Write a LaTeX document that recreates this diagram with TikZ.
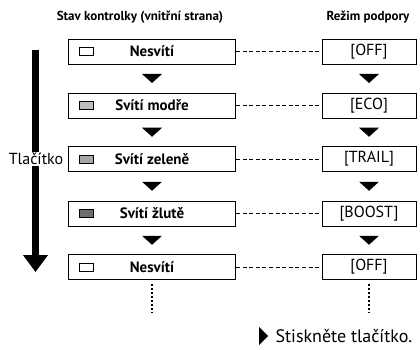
\documentclass[tikz,border=0pt]{standalone}
\usepackage{fontspec}
\setmainfont{PT Sans}
\usepackage{tikz}
\usetikzlibrary{arrows.meta, calc}
\definecolor{lampblue}{RGB}{190, 190, 190}
\definecolor{lampgreen}{RGB}{165, 165, 165}
\definecolor{lampyellow}{RGB}{110, 110, 110}
\tikzset{
    statebox/.style={draw, rectangle, minimum width=167pt, minimum height=25pt, line width=0.9pt, font=\fontsize{15}{17}\selectfont\bfseries},
    modebox/.style={draw, rectangle, minimum width=94pt, minimum height=25pt, line width=0.9pt, font=\fontsize{16}{18}\selectfont},
    lampicon/.style={draw, rectangle, minimum width=14pt, minimum height=8pt, inner sep=0pt, line width=0.7pt},
    headtext/.style={font=\fontsize{13}{15}\selectfont\bfseries},
    linkline/.style={line width=0.6pt, dash pattern=on 4pt off 2.6pt},
    moredots/.style={line width=1.7pt, dash pattern=on 1.7pt off 2.3pt},
    pressarrow/.style={line width=7.5pt, -{Triangle[width=24pt, length=17pt]}},
    downtri/.pic={\fill (-10pt,4.5pt) -- (10pt,4.5pt) -- (0pt,-4.5pt) -- cycle;},
    righttri/.pic={\fill (-4pt,9pt) -- (5pt,0pt) -- (-4pt,-9pt) -- cycle;},
}
\begin{document}
\begin{tikzpicture}[x=1pt, y=-1pt]
    \useasboundingbox (0,0) rectangle (420,350);

    % Headers
    \node[headtext] (hstate) at (140,17) {Stav kontrolky (vnitřní strana)};
    \node[headtext] (hmode) at (368,17) {Režim podpory};

    % Lamp states
    \node[statebox] (s1) at (152,51.5) {Nesvítí};
    \node[statebox] (s2) at (152,105.5) {Svítí modře};
    \node[statebox] (s3) at (152,159) {Svítí zeleně};
    \node[statebox] (s4) at (152,213.5) {Svítí žlutě};
    \node[statebox] (s5) at (152,267) {Nesvítí};

    % Lamp icons
    \node[lampicon, fill=white] (i1) at (86,51.5) {};
    \node[lampicon, fill=lampblue] (i2) at (86,105.5) {};
    \node[lampicon, fill=lampgreen] (i3) at (86,159) {};
    \node[lampicon, fill=lampyellow] (i4) at (86,213.5) {};
    \node[lampicon, fill=white] (i5) at (86,267) {};

    % Assist modes
    \node[modebox] (m1) at (369,51.5) {[OFF]};
    \node[modebox] (m2) at (369,105.5) {[ECO]};
    \node[modebox] (m3) at (369,159) {[TRAIL]};
    \node[modebox] (m4) at (369,213.5) {[BOOST]};
    \node[modebox] (m5) at (369,267) {[OFF]};

    % Dashed links
    \draw[linkline] (s1) -- (m1);
    \draw[linkline] (s2) -- (m2);
    \draw[linkline] (s3) -- (m3);
    \draw[linkline] (s4) -- (m4);
    \draw[linkline] (s5) -- (m5);

    % Step triangles
    \pic at ($(s1.south)!0.5!(s2.north)$) {downtri};
    \pic at ($(s2.south)!0.5!(s3.north)$) {downtri};
    \pic at ($(s3.south)!0.5!(s4.north)$) {downtri};
    \pic at ($(s4.south)!0.5!(s5.north)$) {downtri};
    \pic at ($(m1.south)!0.5!(m2.north)$) {downtri};
    \pic at ($(m2.south)!0.5!(m3.north)$) {downtri};
    \pic at ($(m3.south)!0.5!(m4.north)$) {downtri};
    \pic at ($(m4.south)!0.5!(m5.north)$) {downtri};

    % Continuation
    \coordinate (send) at (152,313);
    \coordinate (mend) at (369,313);
    \draw[moredots] ([yshift=-4pt]s5.south) -- (send);
    \draw[moredots] ([yshift=-4pt]m5.south) -- (mend);

    % Button arrow
    \coordinate (ptop) at (35.5,50);
    \coordinate (pbot) at (35.5,272);
    \draw[pressarrow] (ptop) -- (pbot);
    \node[fill=white, inner sep=1pt, font=\fontsize{16}{18}\selectfont] (button) at (36,159) {Tlačítko};

    % Legend
    \pic at (263,336) {righttri};
    \node[anchor=west, font=\fontsize{18}{20}\selectfont] (legend) at (272,336) {Stiskněte tlačítko.};
\end{tikzpicture}
\end{document}
